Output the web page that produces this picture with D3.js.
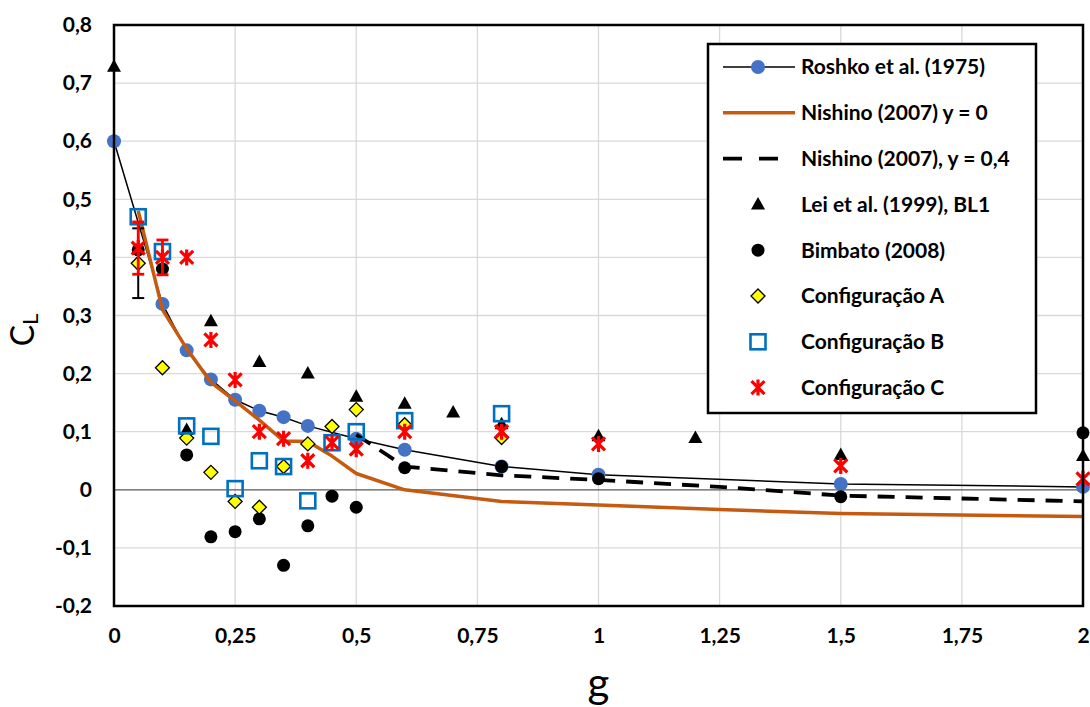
<!DOCTYPE html>
<html>
<head>
<meta charset="utf-8">
<script src="https://cdn.jsdelivr.net/npm/d3@7"></script>
<style>
  html, body { margin: 0; padding: 0; background: #ffffff; }
  svg { display: block; font-family: Lato, "Open Sans", sans-serif; }
</style>
</head>
<body>
<svg id="chart" width="1090" height="707"></svg>
<script>
// ---- data ----
const xTicks = [0, 0.25, 0.5, 0.75, 1, 1.25, 1.5, 1.75, 2];
const yTicks = [-0.2, -0.1, 0, 0.1, 0.2, 0.3, 0.4, 0.5, 0.6, 0.7, 0.8];

const roshkoG = [0, 0.1, 0.15, 0.2, 0.25, 0.3, 0.35, 0.4, 0.5, 0.6, 0.8, 1, 1.5, 2];
const roshkoC = [0.6, 0.32, 0.24, 0.19, 0.155, 0.136, 0.125, 0.11, 0.088, 0.069, 0.04, 0.026, 0.01, 0.005];

const nishino0G = [0.05, 0.1, 0.15, 0.2, 0.25, 0.3, 0.35, 0.4, 0.45, 0.5, 0.6, 0.8, 1, 1.25, 1.5, 2];
const nishino0C = [0.48, 0.31, 0.243, 0.185, 0.153, 0.12, 0.084, 0.083, 0.058, 0.028, 0.0, -0.02, -0.026, -0.034, -0.041, -0.046];

const nishino04G = [0.5, 0.6, 0.8, 1, 1.25, 1.5, 2];
const nishino04C = [0.095, 0.04, 0.025, 0.017, 0.005, -0.01, -0.02];

const leiG = [0, 0.15, 0.2, 0.3, 0.4, 0.5, 0.6, 0.7, 0.8, 1, 1.2, 1.5, 2];
const leiC = [0.728, 0.103, 0.29, 0.22, 0.2, 0.16, 0.148, 0.133, 0.113, 0.092, 0.089, 0.06, 0.058];

const bimbatoG = [0.05, 0.1, 0.15, 0.2, 0.25, 0.3, 0.35, 0.4, 0.45, 0.5, 0.6, 0.8, 1, 1.5, 2];
const bimbatoC = [0.413, 0.38, 0.06, -0.081, -0.072, -0.05, -0.13, -0.062, -0.011, -0.03, 0.038, 0.04, 0.019, -0.012, 0.098];

const confAG = [0.05, 0.1, 0.15, 0.2, 0.25, 0.3, 0.35, 0.4, 0.45, 0.5, 0.6, 0.8];
const confAC = [0.39, 0.21, 0.089, 0.03, -0.02, -0.03, 0.04, 0.079, 0.109, 0.138, 0.112, 0.09];
const confAErr = [0.06, 0, 0, 0, 0, 0, 0, 0, 0, 0, 0, 0];

const confBG = [0.05, 0.1, 0.15, 0.2, 0.25, 0.3, 0.35, 0.4, 0.45, 0.5, 0.6, 0.8];
const confBC = [0.47, 0.41, 0.11, 0.092, 0.002, 0.05, 0.04, -0.019, 0.081, 0.1, 0.119, 0.131];

const confCG = [0.05, 0.1, 0.15, 0.2, 0.25, 0.3, 0.35, 0.4, 0.45, 0.5, 0.6, 0.8, 1, 1.5, 2];
const confCC = [0.416, 0.4, 0.4, 0.258, 0.189, 0.1, 0.088, 0.05, 0.081, 0.07, 0.1, 0.1, 0.079, 0.041, 0.019];
const confCErr = [0.045, 0.03, 0, 0, 0, 0, 0, 0, 0, 0, 0, 0, 0, 0, 0];

const legendLabels = [
  "Roshko et al. (1975)",
  "Nishino (2007) y = 0",
  "Nishino (2007), y = 0,4",
  "Lei et al. (1999), BL1",
  "Bimbato (2008)",
  "Configuração A",
  "Configuração B",
  "Configuração C"
];

// ---- layout ----
const plot = { left: 114, right: 1083, top: 25, bottom: 606 };
const svg = d3.select("#chart");
svg.append("rect").attr("width", 1090).attr("height", 707).attr("fill", "#fff");

const x = d3.scaleLinear().domain([0, 2]).range([plot.left, plot.right]);
const y = d3.scaleLinear().domain([-0.2, 0.8]).range([plot.bottom, plot.top]);

const locale = d3.formatLocale({ decimal: ",", thousands: ".", grouping: [3], currency: ["", ""], minus: "-" });
const fmt = locale.format("~g");

const zip = (gs, cs, es) => gs.map((g, i) => ({ g, c: cs[i], e: es ? es[i] : 0 }));

// gridlines
const grid = svg.append("g");
grid.selectAll("line.h").data(yTicks.filter(v => v !== 0)).join("line")
  .attr("x1", plot.left).attr("x2", plot.right)
  .attr("y1", d => y(d)).attr("y2", d => y(d))
  .attr("stroke", "#d9d9d9").attr("stroke-width", 1.3);
grid.selectAll("line.v").data(xTicks.slice(1, -1)).join("line")
  .attr("y1", plot.top).attr("y2", plot.bottom)
  .attr("x1", d => x(d)).attr("x2", d => x(d))
  .attr("stroke", "#d9d9d9").attr("stroke-width", 1.3);
// zero line
svg.append("line")
  .attr("x1", plot.left).attr("x2", plot.right)
  .attr("y1", y(0)).attr("y2", y(0))
  .attr("stroke", "#595959").attr("stroke-width", 1.2);

// axes (labels only, frame drawn separately)
const yAxis = svg.append("g").attr("transform", `translate(${plot.left},0)`)
  .call(d3.axisLeft(y).tickValues(yTicks).tickSize(0).tickPadding(22).tickFormat(fmt));
const xAxis = svg.append("g").attr("transform", `translate(0,${plot.bottom})`)
  .call(d3.axisBottom(x).tickValues(xTicks).tickSize(0).tickPadding(22).tickFormat(fmt));
[yAxis, xAxis].forEach(a => {
  a.select(".domain").remove();
  a.selectAll("text").attr("font-family", "Lato, sans-serif").attr("font-weight", "bold")
    .attr("font-size", 21).attr("fill", "#000");
});

// axis titles
svg.append("text")
  .attr("transform", "translate(34,330) rotate(-90)")
  .attr("text-anchor", "middle").attr("font-family", "Lato, sans-serif")
  .attr("font-size", 32).attr("fill", "#000")
  .text("C").append("tspan").attr("font-size", 22).attr("dy", 4).text("L");
svg.append("text")
  .attr("x", x(1)).attr("y", 698)
  .attr("text-anchor", "middle").attr("font-family", "Lato, sans-serif")
  .attr("font-size", 42).attr("fill", "#000").text("g");

// ---- series ----
const line = d3.line().x(d => x(d.g)).y(d => y(d.c));
const layer = svg.append("g");

function circle(sel, r, fill) {
  sel.append("circle").attr("r", r).attr("fill", fill);
}
function triangle(sel) {
  sel.append("path").attr("d", "M0,-7.5L7,5L-7,5Z").attr("fill", "#000");
}
function diamond(sel) {
  sel.append("path").attr("d", "M0,-7L7,0L0,7L-7,0Z").attr("fill", "#ffff00")
    .attr("stroke", "#000").attr("stroke-width", 1.3);
}
function square(sel) {
  sel.append("rect").attr("x", -7.5).attr("y", -7.5).attr("width", 15).attr("height", 15)
    .attr("fill", "none").attr("stroke", "#0070c0").attr("stroke-width", 2.6);
}
function star(sel) {
  sel.append("path").attr("d", "M-6.5,-6.5L6.5,6.5M6.5,-6.5L-6.5,6.5M0,-8L0,8")
    .attr("stroke", "#ff0000").attr("stroke-width", 3.2).attr("fill", "none");
}

function points(data, draw) {
  layer.append("g").selectAll("g").data(data).join("g")
    .attr("transform", d => `translate(${x(d.g)},${y(d.c)})`)
    .each(function () { draw(d3.select(this)); });
}
function errorBars(data, color, width, cap) {
  const g = layer.append("g").attr("stroke", color).attr("stroke-width", width);
  data.filter(d => d.e > 0).forEach(d => {
    g.append("line").attr("x1", x(d.g)).attr("x2", x(d.g)).attr("y1", y(d.c - d.e)).attr("y2", y(d.c + d.e));
    [d.c - d.e, d.c + d.e].forEach(v =>
      g.append("line").attr("x1", x(d.g) - cap).attr("x2", x(d.g) + cap).attr("y1", y(v)).attr("y2", y(v)));
  });
}

// Roshko et al. (1975)
const roshko = zip(roshkoG, roshkoC);
layer.append("path").datum(roshko).attr("d", line).attr("fill", "none")
  .attr("stroke", "#000").attr("stroke-width", 1.5);
points(roshko, s => circle(s, 7, "#4472c4"));

// Nishino (2007) y = 0
layer.append("path").datum(zip(nishino0G, nishino0C)).attr("d", line).attr("fill", "none")
  .attr("stroke", "#c55a11").attr("stroke-width", 3.5).attr("stroke-linejoin", "round");

// Nishino (2007), y = 0,4
layer.append("path").datum(zip(nishino04G, nishino04C)).attr("d", line).attr("fill", "none")
  .attr("stroke", "#000").attr("stroke-width", 3.8).attr("stroke-dasharray", "17,11");

// Lei et al. (1999), BL1
points(zip(leiG, leiC), triangle);

// Bimbato (2008)
points(zip(bimbatoG, bimbatoC), s => circle(s, 6.5, "#000"));

// Configuração A
const confA = zip(confAG, confAC, confAErr);
errorBars(confA, "#000", 2, 6);
points(confA, diamond);

// Configuração B
points(zip(confBG, confBC), square);

// Configuração C
const confC = zip(confCG, confCC, confCErr);
errorBars(confC, "#ff0000", 2.8, 6);
points(confC, star);

// plot frame
svg.append("rect")
  .attr("x", plot.left).attr("y", plot.top)
  .attr("width", plot.right - plot.left).attr("height", plot.bottom - plot.top)
  .attr("fill", "none").attr("stroke", "#000").attr("stroke-width", 2.5);

// ---- legend ----
const lg = svg.append("g");
lg.append("rect").attr("x", 708).attr("y", 44).attr("width", 328).attr("height", 369)
  .attr("fill", "#fff").attr("stroke", "#000").attr("stroke-width", 2.5);
const rowY = i => 67 + i * 45.8;
const symX = 758;
const rows = lg.selectAll("g.row").data(legendLabels).join("g")
  .attr("transform", (d, i) => `translate(0,${rowY(i)})`);
rows.append("text").attr("x", 801).attr("y", 0).attr("dy", "0.35em")
  .attr("font-family", "Lato, sans-serif").attr("font-weight", "bold").attr("font-size", 21)
  .attr("fill", "#000").text(d => d);

const r0 = rows.filter((d, i) => i === 0);
r0.append("line").attr("x1", 723).attr("x2", 795).attr("stroke", "#000").attr("stroke-width", 1.5);
r0.append("g").attr("transform", `translate(${symX},0)`).call(s => circle(s, 7, "#4472c4"));
rows.filter((d, i) => i === 1).append("line").attr("x1", 723).attr("x2", 795)
  .attr("stroke", "#c55a11").attr("stroke-width", 3.5);
rows.filter((d, i) => i === 2).append("line").attr("x1", 723).attr("x2", 780)
  .attr("stroke", "#000").attr("stroke-width", 3.8).attr("stroke-dasharray", "19,17");
rows.filter((d, i) => i === 3).append("g").attr("transform", `translate(${symX},0)`).call(triangle);
rows.filter((d, i) => i === 4).append("g").attr("transform", `translate(${symX},0)`).call(s => circle(s, 6.5, "#000"));
rows.filter((d, i) => i === 5).append("g").attr("transform", `translate(${symX},0)`).call(diamond);
rows.filter((d, i) => i === 6).append("g").attr("transform", `translate(${symX},0)`).call(square);
rows.filter((d, i) => i === 7).append("g").attr("transform", `translate(${symX},0)`).call(star);
</script>
</body>
</html>
